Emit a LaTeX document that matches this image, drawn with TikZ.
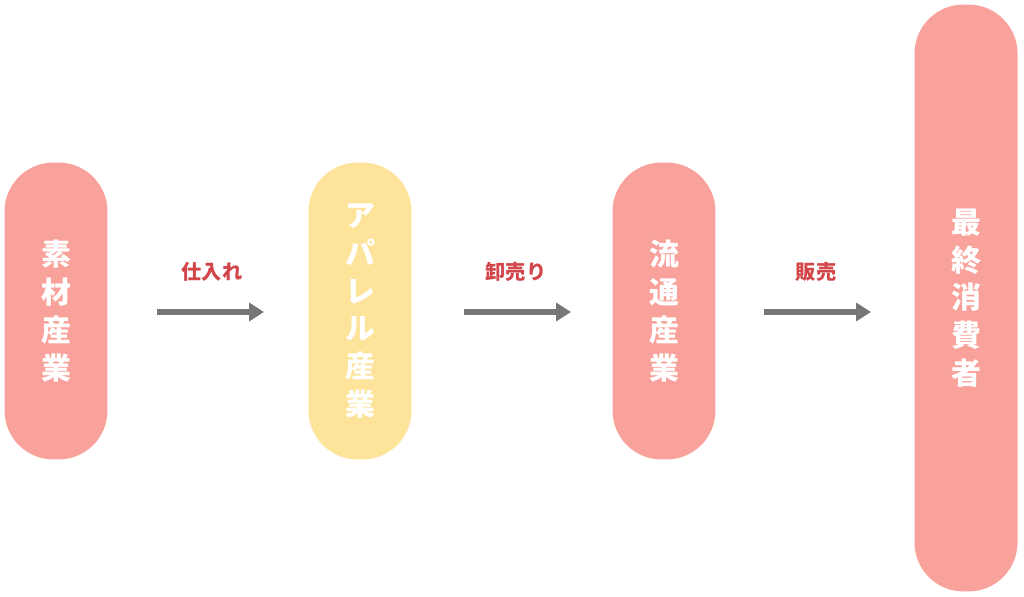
\documentclass[tikz,border=0pt]{standalone}
\usepackage{fontspec}
\setmainfont{Noto Sans CJK JP}
\usetikzlibrary{arrows.meta}
\definecolor{pillred}{HTML}{F9A29B}
\definecolor{pillyellow}{HTML}{FEE39B}
\definecolor{labelred}{HTML}{D2464A}
\definecolor{arrowgray}{HTML}{777777}
\tikzset{
  pill/.style={rounded corners=0.98cm, minimum width=2.06cm, text=white,
    font=\fontsize{17}{21.5}\selectfont\bfseries, align=center, inner sep=0pt},
  steplabel/.style={text=labelred, font=\fontsize{11.5}{14}\selectfont\bfseries},
  flow/.style={draw=arrowgray, line width=0.12cm, -{Triangle[length=0.3cm,width=0.36cm]}}
}
\begin{document}
\begin{tikzpicture}[x=0.02cm,y=-0.02cm]
\useasboundingbox (0,0) rectangle (1024,597);
\node[pill, fill=pillred, minimum height=5.94cm] (sozai) at (56,311) {素\\材\\産\\業};
\node[pill, fill=pillyellow, minimum height=5.94cm] (apparel) at (360,311) {ア\\パ\\レ\\ル\\産\\業};
\node[pill, fill=pillred, minimum height=5.94cm] (ryutsu) at (664,311) {流\\通\\産\\業};
\node[pill, fill=pillred, minimum height=11.74cm] (shohi) at (966,298) {最\\終\\消\\費\\者};
% arrows
\coordinate (a1s) at (157,312); \coordinate (a1e) at (264,312);
\coordinate (a2s) at (464,312); \coordinate (a2e) at (571,312);
\coordinate (a3s) at (764,312); \coordinate (a3e) at (871,312);
\draw[flow] (a1s) -- (a1e);
\draw[flow] (a2s) -- (a2e);
\draw[flow] (a3s) -- (a3e);
\node[steplabel] (l1) at (212,272) {仕入れ};
\node[steplabel] (l2) at (516,272) {卸売り};
\node[steplabel] (l3) at (816,272) {販売};
\end{tikzpicture}
\end{document}
